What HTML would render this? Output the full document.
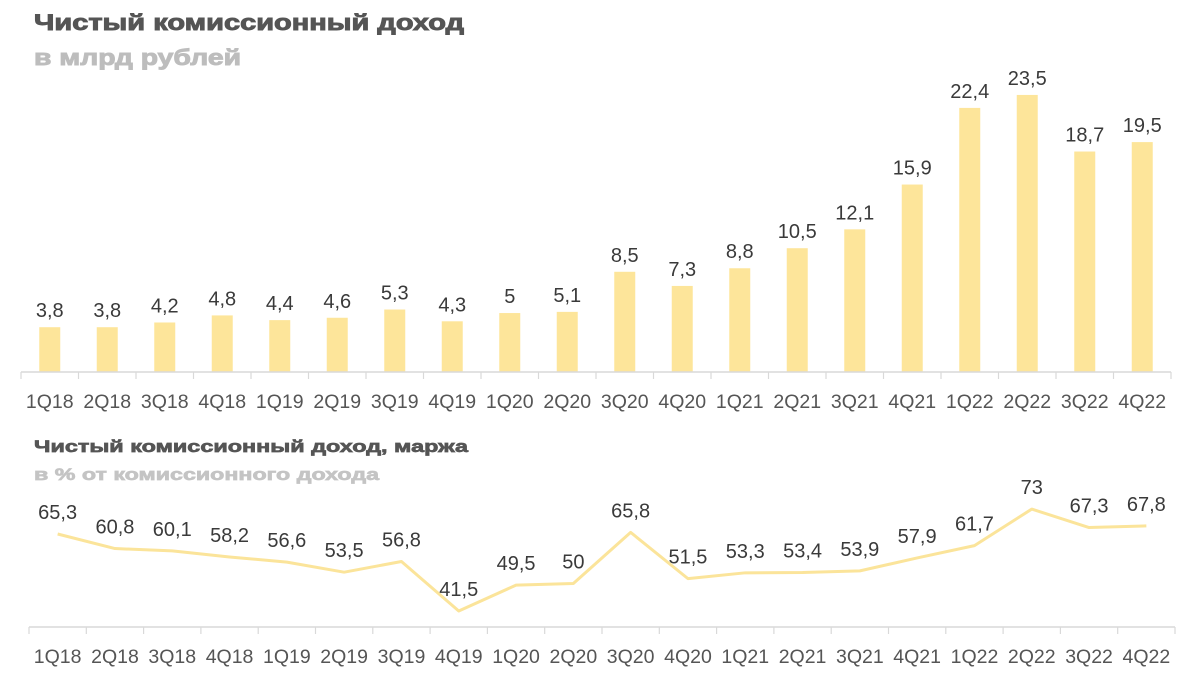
<!DOCTYPE html>
<html><head><meta charset="utf-8"><style>
html,body{margin:0;padding:0;background:#fff;}
svg{display:block;font-family:"Liberation Sans","DejaVu Sans",sans-serif;}
</style></head><body>
<svg id="c" width="1200" height="676" viewBox="0 0 1200 676">
<text x="34" y="30" font-size="22" font-weight="bold" fill="#555" stroke="#555" stroke-width="0.9" textLength="430" lengthAdjust="spacingAndGlyphs">Чистый комиссионный доход</text>
<text x="34" y="65" font-size="22" font-weight="bold" fill="#bdbdbd" stroke="#bdbdbd" stroke-width="0.9" textLength="207" lengthAdjust="spacingAndGlyphs">в млрд рублей</text>
<text x="34" y="452" font-size="17" font-weight="bold" fill="#555" stroke="#555" stroke-width="0.7" textLength="434" lengthAdjust="spacingAndGlyphs">Чистый комиссионный доход, маржа</text>
<text x="34" y="480" font-size="17" font-weight="bold" fill="#c4c4c4" stroke="#c4c4c4" stroke-width="0.7" textLength="345" lengthAdjust="spacingAndGlyphs">в % от комиссионного дохода</text>
<g id="g1"></g><g id="g2"></g>
</svg>
<script>
const categories=["1Q18","2Q18","3Q18","4Q18","1Q19","2Q19","3Q19","4Q19","1Q20","2Q20","3Q20","4Q20","1Q21","2Q21","3Q21","4Q21","1Q22","2Q22","3Q22","4Q22"];
const incomeValues=[3.8,3.8,4.2,4.8,4.4,4.6,5.3,4.3,5,5.1,8.5,7.3,8.8,10.5,12.1,15.9,22.4,23.5,18.7,19.5];
const marginValues=[65.3,60.8,60.1,58.2,56.6,53.5,56.8,41.5,49.5,50,65.8,51.5,53.3,53.4,53.9,57.9,61.7,73,67.3,67.8];
const NS="http://www.w3.org/2000/svg";
function mk(p,t,a){const e=document.createElementNS(NS,t);for(const k in a)e.setAttribute(k,a[k]);p.appendChild(e);return e;}
const fmt=v=>String(v).replace('.',',');
// top chart
const g1=document.getElementById('g1');
const x1L=21,x1R=1171,base1=372,k1=11.79;
const step1=(x1R-x1L)/categories.length;
const xb=i=>x1L+step1*(i+0.5);
const yb=v=>base1-v*k1;
incomeValues.forEach((v,i)=>{
 const r=mk(g1,'rect',{x:xb(i)-10.5,y:yb(v),width:21,height:base1-yb(v),fill:'#fde59a'});
 
 
 const t=mk(g1,'text',{x:xb(i),y:yb(v)-10,'font-size':20,'text-anchor':'middle',fill:'#3a3a3a'});
 t.textContent=fmt(v);
 
 
});
const ax1=mk(g1,'line',{x1:x1L,x2:x1R,y1:base1,y2:base1,stroke:'#d9d9d9','stroke-width':1.5});


categories.forEach((c,i)=>{
 mk(g1,'line',{x1:x1L+step1*i,x2:x1L+step1*i,y1:base1,y2:base1+7,stroke:'#d9d9d9','stroke-width':1.2});
 const t=mk(g1,'text',{x:xb(i),y:408,'font-size':19.5,'text-anchor':'middle',fill:'#555'});
 t.textContent=c;
 
 
});
mk(g1,'line',{x1:x1R,x2:x1R,y1:base1,y2:base1+7,stroke:'#d9d9d9','stroke-width':1.2});
// bottom chart
const g2=document.getElementById('g2');
const x2L=29,x2R=1175,base2=627,k2=3.235;
const step2=(x2R-x2L)/categories.length;
const xl=i=>x2L+step2*(i+0.5);
const yl=v=>534-(v-65.3)*k2;
const line=mk(g2,'polyline',{points:marginValues.map((v,i)=>xl(i)+','+yl(v)).join(' '),fill:'none',stroke:'#fbe49a','stroke-width':3,'stroke-linejoin':'round'});


marginValues.forEach((v,i)=>{
 const t=mk(g2,'text',{x:xl(i),y:yl(v)-15,'font-size':20,'text-anchor':'middle',fill:'#3a3a3a'});
 t.textContent=fmt(v);
 
 
});
const ax2=mk(g2,'line',{x1:x2L,x2:x2R,y1:base2,y2:base2,stroke:'#d9d9d9','stroke-width':1.5});


categories.forEach((c,i)=>{
 mk(g2,'line',{x1:x2L+step2*i,x2:x2L+step2*i,y1:base2,y2:base2+7,stroke:'#d9d9d9','stroke-width':1.2});
 const t=mk(g2,'text',{x:xl(i),y:663,'font-size':19.5,'text-anchor':'middle',fill:'#555'});
 t.textContent=c;
 
 
});
mk(g2,'line',{x1:x2R,x2:x2R,y1:base2,y2:base2+7,stroke:'#d9d9d9','stroke-width':1.2});
</script>
</body></html>
